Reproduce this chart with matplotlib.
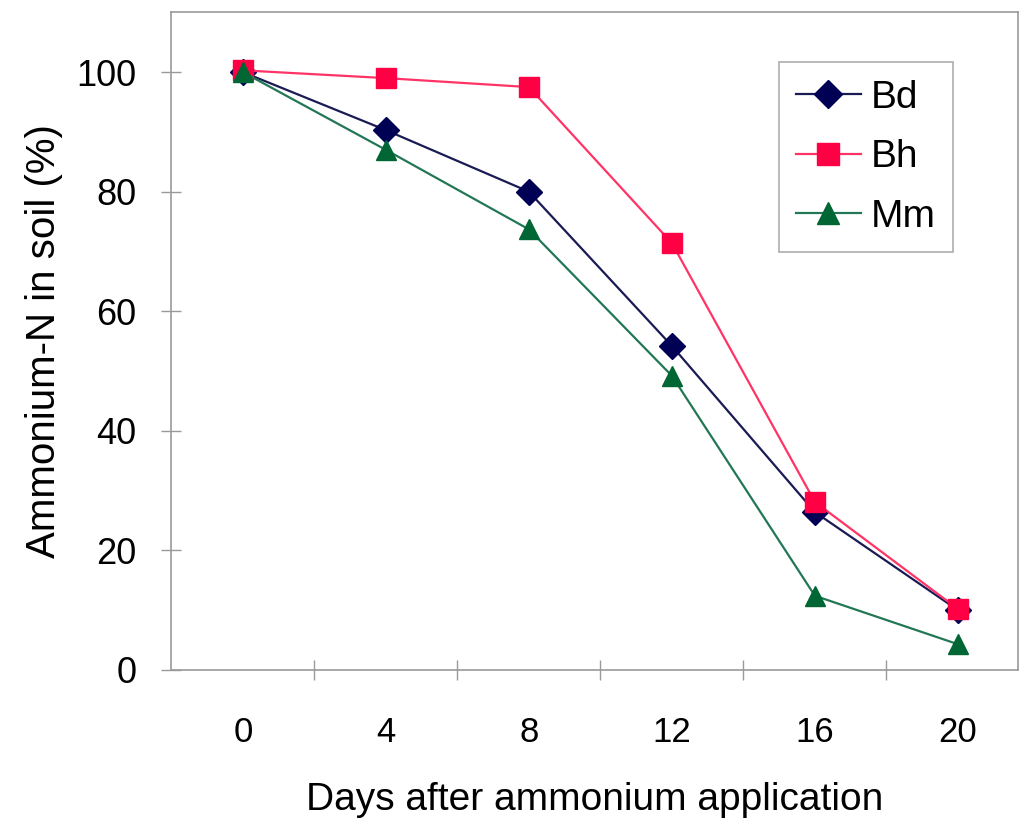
import matplotlib
matplotlib.use("Agg")
import matplotlib.pyplot as plt

# data
days = ["0", "4", "8", "12", "16", "20"]
bd = [100, 90.3, 80, 54.2, 26.4, 10]
bh = [100.3, 99, 97.5, 71.4, 28.1, 10.2]
mm = [100, 87, 73.7, 49.2, 12.4, 4.3]

plt.rcParams['font.family'] = ['Liberation Sans', 'DejaVu Sans']

fig = plt.figure(figsize=(10.2, 8.24), dpi=100)
ax = fig.add_axes([0.168, 0.187, 0.83, 0.798])

x = list(range(len(days)))
ax.plot(x, bd, color='#1a1a55', lw=1.6, marker='D', ms=13,
        mfc='#000055', mec='#000055', label='Bd')
ax.plot(x, bh, color='#ff3366', lw=1.6, marker='s', ms=14,
        mfc='#ff0044', mec='#ff0044', label='Bh')
ax.plot(x, mm, color='#227755', lw=1.6, marker='^', ms=15,
        mfc='#006633', mec='#006633', label='Mm')

ax.set_xlim(-0.5, 5.42)
ax.set_ylim(0, 110)
ax.set_yticks([0, 20, 40, 60, 80, 100])
ax.set_xticks(x)
ax.set_xticklabels(days)
ax.set_xticks([i + 0.5 for i in range(5)], minor=True)

ax.tick_params(axis='y', direction='inout', length=14, width=1, color='#999999',
               labelsize=26, pad=18)
ax.tick_params(axis='x', which='major', length=0, labelsize=25, pad=33)
ax.tick_params(axis='x', which='minor', direction='inout', length=14, width=1,
               color='#999999')

for s in ax.spines.values():
    s.set_color('#999999')
    s.set_linewidth(1.2)

ax.set_xlabel('Days after ammonium application', fontsize=28, labelpad=24)
ax.set_ylabel('Ammonium-N in soil (%)', fontsize=29, labelpad=10)

leg = ax.legend(loc='upper right', bbox_to_anchor=(0.923, 0.924), fontsize=28,
                frameon=True, fancybox=False, edgecolor='#999999',
                handlelength=1.65, handletextpad=0.25, labelspacing=0.6,
                borderpad=0.45, borderaxespad=0, markerscale=1.1)
leg.get_frame().set_linewidth(1.2)

fig.savefig('out.png', dpi=100)
